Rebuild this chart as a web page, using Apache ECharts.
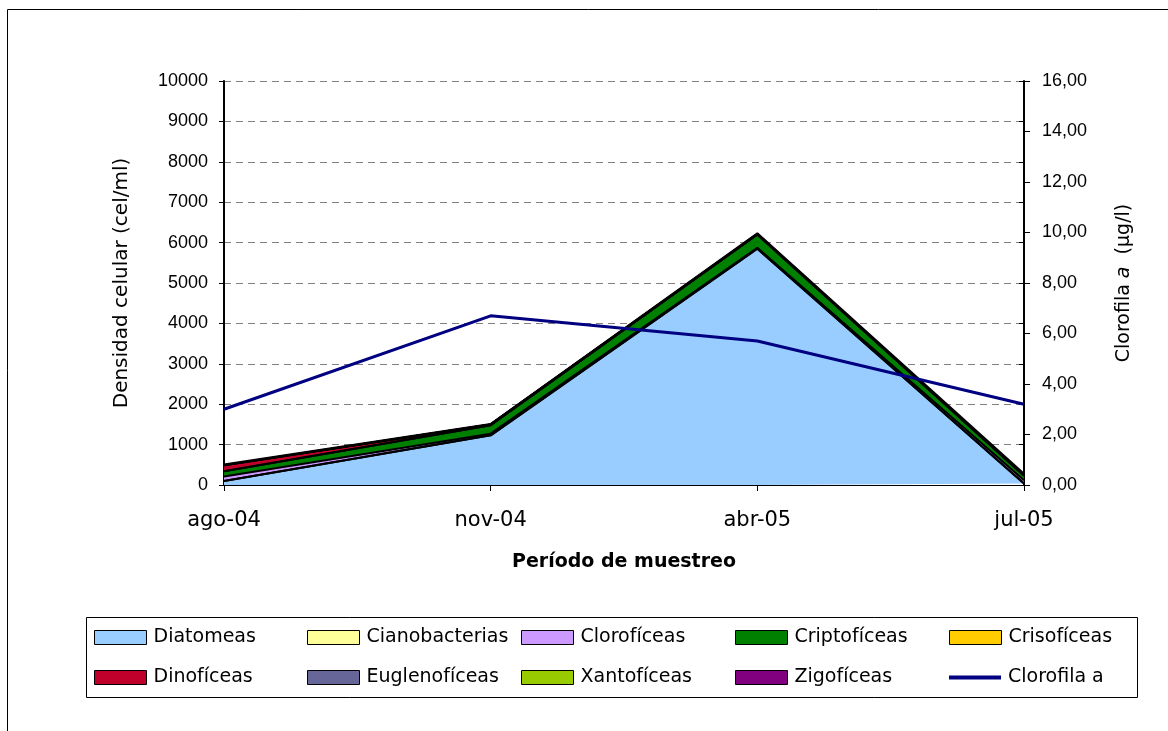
<!DOCTYPE html>
<html>
<head>
<meta charset="utf-8">
<title>Densidad celular y clorofila a</title>
<script src="https://cdn.jsdelivr.net/npm/echarts@6/dist/echarts.min.js"></script>
<style>
  html, body { margin: 0; padding: 0; background: #fff; }
  #chart { width: 1168px; height: 731px; }
</style>
</head>
<body>
<div id="chart"></div>
<script>
// Sampling periods
const periodos = ['ago-04', 'nov-04', 'abr-05', 'jul-05'];

// Cell density per group (cel/ml), stacked in this order
const diatomeas      = [100, 1230, 5850, 40];
const cianobacterias = [0, 0, 0, 0];
const clorofuceas    = [110, 40, 20, 80];
const criptofuceas   = [130, 210, 330, 110];
const crisofuceas    = [0, 0, 0, 0];
const dinofuceas     = [150, 20, 0, 10];
const euglenofuceas  = [0, 0, 10, 0];
const xantofuceas    = [0, 0, 0, 0];
const zigofuceas     = [20, 10, 20, 40];

// Chlorophyll a (µg/l), right axis
const clorofilaA = [3.0, 6.7, 5.7, 3.2];

// Axis ticks
const densidadTicks = { min: 0, max: 10000, interval: 1000 };
const clorofilaTicks = { min: 0, max: 16, interval: 2 };

const grupos = [
  { name: 'Diatomeas',      data: diatomeas,      color: '#99ccff' },
  { name: 'Cianobacterias', data: cianobacterias, color: '#ffff99' },
  { name: 'Clorofíceas',    data: clorofuceas,    color: '#cc99ff' },
  { name: 'Criptofíceas',   data: criptofuceas,   color: '#008000' },
  { name: 'Crisofíceas',    data: crisofuceas,    color: '#ffcc00' },
  { name: 'Dinofíceas',     data: dinofuceas,     color: '#c0002a' },
  { name: 'Euglenofíceas',  data: euglenofuceas,  color: '#666699' },
  { name: 'Xantofíceas',    data: xantofuceas,    color: '#99cc00' },
  { name: 'Zigofíceas',     data: zigofuceas,     color: '#800080' }
];

const NUM_FONT = '"Liberation Sans", Arial, sans-serif';
const TXT_FONT = '"DejaVu Sans", "Liberation Sans", sans-serif';

const series = grupos.map(g => ({
  name: g.name,
  type: 'line',
  stack: 'densidad',
  data: g.data,
  symbol: 'none',
  showSymbol: false,
  itemStyle: { color: g.color },
  lineStyle: { color: '#000', width: 2 },
  areaStyle: { color: g.color, opacity: 1 },
  emphasis: { disabled: true },
  z: 2
}));

series.push({
  name: 'Clorofila a',
  type: 'line',
  yAxisIndex: 1,
  data: clorofilaA,
  symbol: 'none',
  showSymbol: false,
  itemStyle: { color: '#000080' },
  lineStyle: { color: '#000080', width: 3 },
  emphasis: { disabled: true },
  z: 5
});

// Legend laid out as a 5 x 2 table
const legendCols = [94, 307, 521, 735, 949];
const legendRows = [628, 668];
const legendNames = grupos.map(g => g.name).concat(['Clorofila a']);
const legends = legendNames.map((name, i) => {
  const isLine = name === 'Clorofila a';
  return {
    data: [{ name: name, icon: 'rect' }],
    left: legendCols[i % 5],
    top: legendRows[Math.floor(i / 5)],
    itemWidth: 52,
    itemHeight: isLine ? 4 : 14,
    itemGap: 0,
    padding: 0,
    selectedMode: false,
    itemStyle: isLine ? { borderWidth: 0 } : { borderColor: '#000', borderWidth: 1 },
    textStyle: { fontFamily: TXT_FONT, fontSize: 19, color: '#000', padding: [0, 0, 0, 2] }
  };
});

const chart = echarts.init(document.getElementById('chart'), null, { renderer: 'canvas' });

chart.setOption({
  backgroundColor: '#fff',
  animation: false,
  textStyle: { fontFamily: NUM_FONT },
  grid: { left: 224, right: 144, top: 81, bottom: 246, containLabel: false },
  legend: legends,
  graphic: [
    {
      type: 'rect',
      shape: { x: 7.5, y: 9.5, width: 1400, height: 900 },
      style: { fill: 'none', stroke: '#000', lineWidth: 1 },
      silent: true
    },
    {
      type: 'rect',
      shape: { x: 86.5, y: 617.5, width: 1051, height: 80 },
      style: { fill: 'none', stroke: '#000', lineWidth: 1 },
      silent: true
    }
  ],
  xAxis: {
    type: 'category',
    data: periodos,
    boundaryGap: false,
    name: 'Período de muestreo',
    nameLocation: 'middle',
    nameGap: 68,
    nameTextStyle: { fontFamily: TXT_FONT, fontSize: 19, fontWeight: 'bold', color: '#000' },
    axisLine: { lineStyle: { color: '#000', width: 1 } },
    axisTick: { alignWithLabel: true, length: 6, lineStyle: { color: '#000' } },
    axisLabel: { fontFamily: TXT_FONT, fontSize: 21, color: '#000', margin: 25 },
    splitLine: { show: false }
  },
  yAxis: [
    {
      type: 'value',
      min: densidadTicks.min,
      max: densidadTicks.max,
      interval: densidadTicks.interval,
      position: 'left',
      name: 'Densidad celular (cel/ml)',
      nameLocation: 'middle',
      nameGap: 92,
      nameRotate: 90,
      nameTextStyle: { fontFamily: TXT_FONT, fontSize: 20, color: '#000' },
      axisLine: { show: true, lineStyle: { color: '#000', width: 2 } },
      axisTick: { show: true, length: 5, lineStyle: { color: '#000' } },
      axisLabel: {
        fontFamily: NUM_FONT, fontSize: 18, color: '#000', margin: 16,
        formatter: v => String(v)
      },
      splitLine: { show: true, lineStyle: { color: '#808080', type: [7, 5], width: 1 } }
    },
    {
      type: 'value',
      min: clorofilaTicks.min,
      max: clorofilaTicks.max,
      interval: clorofilaTicks.interval,
      position: 'right',
      name: '{n|Clorofila }{i|a}{n|  (μg/l)}',
      nameLocation: 'middle',
      nameGap: 91,
      nameRotate: 90,
      nameTextStyle: {
        rich: {
          n: { fontFamily: TXT_FONT, fontSize: 19, color: '#000' },
          i: { fontFamily: TXT_FONT, fontSize: 19, color: '#000', fontStyle: 'italic' }
        }
      },
      axisLine: { show: true, lineStyle: { color: '#000', width: 2 } },
      axisTick: { show: true, length: 6, lineStyle: { color: '#000' } },
      axisLabel: {
        fontFamily: NUM_FONT, fontSize: 18, color: '#000', margin: 18,
        formatter: v => v.toFixed(2).replace('.', ',')
      },
      splitLine: { show: false }
    },
    {
      // inner tick marks on the right-hand axis, at the density steps
      type: 'value',
      min: densidadTicks.min,
      max: densidadTicks.max,
      interval: densidadTicks.interval,
      position: 'right',
      axisLine: { show: false },
      axisTick: { show: true, inside: true, length: 5, lineStyle: { color: '#000' } },
      axisLabel: { show: false },
      splitLine: { show: false }
    }
  ],
  series: series
});
</script>
</body>
</html>
